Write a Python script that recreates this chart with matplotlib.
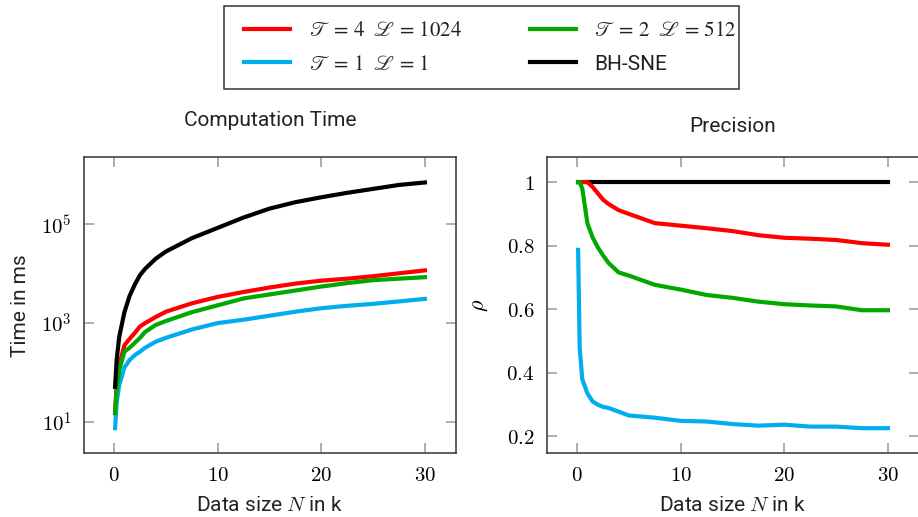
import numpy as np
import matplotlib
matplotlib.use('Agg')
import matplotlib.pyplot as plt
from matplotlib.ticker import FixedLocator, FuncFormatter, NullLocator
from matplotlib.font_manager import FontProperties
from matplotlib.patches import Rectangle

plt.rcParams['font.family'] = ['Roboto', 'DejaVu Sans']
plt.rcParams['mathtext.fontset'] = 'cm'

# data size N in thousands
N = [0.1, 0.25, 0.5, 1, 1.5, 2, 2.5, 3, 4, 5, 7.5, 10, 12.5, 15, 17.5, 20, 22.5, 25, 27.5, 30]

# computation time in ms
time_t4 = [15, 56, 141, 355, 479, 631, 851, 1000, 1320, 1700, 2510, 3390, 4270, 5250, 6310, 7240, 7940, 8910, 10200, 11700]
time_t2 = [15, 45, 112, 263, 316, 398, 501, 661, 912, 1100, 1660, 2290, 3160, 3800, 4570, 5500, 6460, 7410, 7940, 8510]
time_t1 = [7.4, 24, 56, 126, 178, 224, 263, 316, 417, 501, 741, 1000, 1170, 1410, 1700, 2000, 2240, 2450, 2750, 3090]
time_bh = [51, 178, 525, 1660, 3550, 6030, 9330, 12600, 20000, 28200, 52500, 85100, 138000, 209000, 282000, 355000, 437000, 525000, 631000, 708000]

# precision rho
prec_t4 = [1, 1, 1, 1, 0.985, 0.965, 0.945, 0.932, 0.912, 0.90, 0.871, 0.863, 0.855, 0.846, 0.833, 0.825, 0.822, 0.818, 0.808, 0.803]
prec_t2 = [1, 1, 0.98, 0.87, 0.826, 0.795, 0.77, 0.747, 0.716, 0.706, 0.677, 0.662, 0.645, 0.636, 0.624, 0.616, 0.612, 0.609, 0.597, 0.597]
prec_t1 = [0.787, 0.48, 0.38, 0.335, 0.31, 0.30, 0.293, 0.29, 0.278, 0.266, 0.259, 0.249, 0.247, 0.239, 0.234, 0.237, 0.231, 0.231, 0.226, 0.226]
prec_bh = [1] * len(N)

labels = [r'$\mathscr{T}\,=\,4\ \ \mathscr{L}\,=\,1024$', r'$\mathscr{T}\,=\,1\ \ \mathscr{L}\,=\,1$',
          r'$\mathscr{T}\,=\,2\ \ \mathscr{L}\,=\,512$', 'BH-SNE']
colors = ['#ff0000', '#00adef', '#00a800', '#000000']

fig = plt.figure(figsize=(9.18, 5.17), dpi=100)
ax1 = fig.add_axes([0.0915, 0.1232, 0.4052, 0.5725])
ax2 = fig.add_axes([0.5959, 0.1232, 0.4052, 0.5725])

lw = 3
h1, = ax1.plot(N, time_t4, color=colors[0], lw=lw)
h2, = ax1.plot(N, time_t1, color=colors[1], lw=lw)
h3, = ax1.plot(N, time_t2, color=colors[2], lw=lw)
h4, = ax1.plot(N, time_bh, color=colors[3], lw=lw)

ax2.plot(N, prec_bh, color=colors[3], lw=lw)
ax2.plot(N, prec_t4, color=colors[0], lw=lw)
ax2.plot(N, prec_t2, color=colors[2], lw=lw)
ax2.plot(N, prec_t1, color=colors[1], lw=lw)

ax1.set_yscale('log')
ax1.set_xlim(-2.9, 33)
ax1.set_ylim(10 ** 0.36, 10 ** 6.36)
ax1.yaxis.set_major_locator(FixedLocator([1e1, 1e3, 1e5]))
ax1.yaxis.set_minor_locator(NullLocator())
ax1.yaxis.set_major_formatter(FuncFormatter(lambda v, p: r'$10^{%d}$' % round(np.log10(v))))

ax2.set_xlim(-2.9, 33)
ax2.set_ylim(0.147, 1.078)
ax2.yaxis.set_major_locator(FixedLocator([0.2, 0.4, 0.6, 0.8, 1.0]))
ax2.yaxis.set_major_formatter(FuncFormatter(lambda v, p: r'$%g$' % v))

for ax in (ax1, ax2):
    ax.xaxis.set_major_locator(FixedLocator([0, 10, 20, 30]))
    ax.xaxis.set_major_formatter(FuncFormatter(lambda v, p: r'$%d$' % v))
    ax.tick_params(which='both', direction='in', top=True, right=True, length=7, width=1.1,
                   color='#999999', labelsize=15, pad=9)
    for s in ax.spines.values():
        s.set_color('#333333')
        s.set_linewidth(1.1)
    ax.set_xlabel(r'Data size $N$ in k', fontsize=15, labelpad=8, color='#222222')

ax1.set_ylabel('Time in ms', fontsize=15, labelpad=8, color='#222222')
ax2.set_ylabel(r'$\rho$', fontsize=16, labelpad=12)

fig.text(0.294, 0.766, 'Computation Time', ha='center', va='center', fontsize=15, color='#222222')
fig.text(0.798, 0.756, 'Precision', ha='center', va='center', fontsize=15, color='#222222')

# legend frame drawn separately so the entries can sit where they do in the original
fig.patches.append(Rectangle((224 / 918, 1 - 89 / 517), 515 / 918, 83 / 517, transform=fig.transFigure,
                             fill=False, edgecolor='#333333', linewidth=1.1))
prop = FontProperties(family='Roboto', size=15, math_fontfamily='stix')
leg = fig.legend([h1, h2, h3, h4], labels, loc='center', ncol=2, mode='expand',
                 bbox_to_anchor=(244 / 918, 0.828, 493 / 918, 0.16), prop=prop, frameon=False,
                 handlelength=2.2, handletextpad=0.9, borderaxespad=0, borderpad=0,
                 labelspacing=0.68)
for t in leg.get_texts():
    t.set_color('#222222')

fig.savefig('out.png', dpi=100)
